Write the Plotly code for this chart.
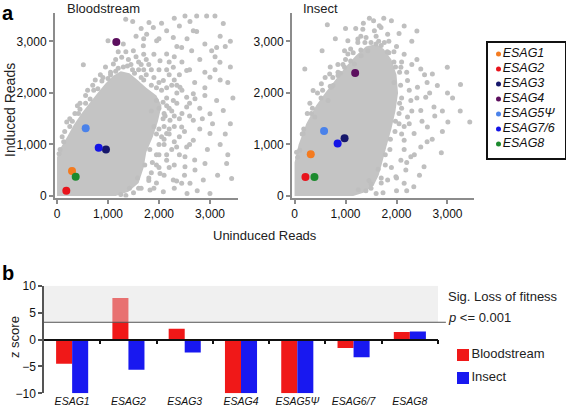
import plotly.graph_objects as go

W, H = 566, 410
FONT = "Liberation Sans, Arial, Helvetica, sans-serif"

# ---------------- Panel a data ----------------
genes = ["ESAG1", "ESAG2", "ESAG3", "ESAG4", "ESAG5Ψ", "ESAG7/6", "ESAG8"]
gene_colors = ["#f47b20", "#e8141c", "#16176b", "#5c0f5e", "#4a82ea", "#1414e6", "#1c8a2e"]

bs_uninduced = [294, 182, 960, 1163, 562, 817, 366]
bs_induced = [483, 102, 901, 2986, 1313, 933, 373]
in_uninduced = [318, 214, 981, 1189, 579, 845, 390]
in_induced = [811, 367, 1120, 2388, 1260, 1017, 367]

# dense core of the grey cloud (outline of the densely packed region)
bs_core_x = [0, 0, 80, 200, 330, 480, 620, 780, 950, 1100, 1250, 1420, 1580, 1750, 1950, 2050, 1980, 1880, 1750, 1700, 1600, 1400, 1150]
bs_core_y = [0, 750, 950, 1150, 1380, 1600, 1780, 1980, 2180, 2330, 2420, 2380, 2250, 2100, 1950, 1750, 1450, 1150, 850, 550, 250, 80, 0]
in_core_x = [0, 0, 80, 230, 420, 600, 800, 1000, 1200, 1400, 1600, 1750, 1900, 2000, 2030, 1980, 1900, 1800, 1720, 1650, 1550, 1350, 1150]
in_core_y = [0, 650, 1000, 1400, 1750, 2000, 2250, 2500, 2720, 2900, 2950, 2850, 2650, 2350, 2000, 1650, 1300, 950, 650, 400, 200, 60, 0]

# scattered grey points outside the dense core
bs_bg_x = [516, 190, 100, 250, 400, 560, 700, 850, 1000, 1105, 950, 1268, 1347, 1484, 1497, 1693, 1758, 1804, 1889, 1954,
           1600, 1400, 1750, 1850, 2020, 2150, 2150, 2281, 2445, 2510, 2608, 2641, 2739, 2739, 2935, 3098, 3261, 2673, 2550, 3033,
           3131, 3196, 3000, 2281, 2543, 2085, 2412, 2673, 2281, 2543, 2216, 2445, 2150, 2673, 2346, 2150, 2510, 2020, 2281, 2608,
           2085, 2543, 2706, 3131, 3261, 2673, 3000, 3000, 2543, 2902, 2510, 2706, 2445, 2869, 3425, 3327, 1824, 2346, 1950, 2000,
           2100, 2250, 2350, 1900, 2200, 2800, 2900, 3100, 3350, 3300, 3400, 3200, 2800, 2950, 3150, 2750, 1950, 2200, 2400, 2600,
           2300, 2050, 1650, 1550, 1300, 1200, 1950, 2050, 1850, 2150, 2000, 2100, 1900, 2250, 1750, 2000, 1650, 1900, 2200, 2400,
           2350, 2450, 2050, 1950, 2250, 1850, 2100,
           60, 150, 300, 450, 650, 800, 1000, 1150, 1300, 1480, 1650, 1850, 2080, 2080, 1950, 1820, 1720, 1580, 1420, 1250,
           1700, 1800, 1550, 1450, 1350, 1150, 1050, 900, 750, 600, 450, 350, 1600, 1700, 2150, 2300, 2450, 2150, 2300, 2200,
           2000, 2100, 2300, 2150, 2400, 2000, 1800, 1600, 1900, 2300, 2500, 2600, 2500, 2800, 2600, 2900, 2700, 2600, 2900, 3200,
           3100, 2900, 3200, 2400, 2300, 2000, 1700, 2450, 2350, 3400, 3400, 3450, 3300, 3050, 2850, 2700, 2300, 3000, 2550, 3350,
           2000, 2120, 2150, 1950, 1700, 1520, 1380, 1200, 1050, 880, 720, 560, 420, 250, 130, 40, 1870, 1800, 1650, 1500,
           1350, 2000, 2100, 2200, 2300, 2400, 2200, 2350]
bs_bg_y = [2548, 1434, 1150, 1500, 1750, 1950, 2150, 2350, 3011, 2561, 2500, 2689, 3430, 3384, 2818, 2915, 3140, 3365, 3268, 3011,
           2600, 2650, 2650, 2450, 2625, 2754, 3205, 3075, 2882, 3494, 3384, 2818, 3192, 3494, 3494, 3494, 3346, 3205, 3050, 2818,
           2882, 2593, 2303, 2496, 2432, 2239, 2110, 1982, 1853, 1724, 1467, 1338, 1210, 1081, 952, 695, 759, 438, 309, 245,
           83, 1917, 1886, 1853, 1660, 1467, 1596, 1210, 952, 631, 566, 502, 245, 309, 341, 631, 116, 290, 600, 1000,
           1350, 1650, 2000, 2300, 2350, 2650, 2100, 2450, 2200, 2900, 1400, 1000, 1300, 900, 400, 100, 250, 550, 1150, 1550,
           2700, 3350, 3250, 3100, 2950, 2800, 1850, 2050, 1650, 1900, 2200, 1600, 1350, 2150, 2350, 2450, 2550, 2750, 2600, 2350,
           1800, 1600, 1150, 800, 900, 450, 400,
           900, 1250, 1450, 1680, 1880, 2080, 2280, 2420, 2500, 2450, 2300, 2150, 1820, 1500, 1200, 900, 600, 350, 150, 30,
           2750, 2550, 2700, 2550, 2800, 2650, 2400, 2300, 2250, 2050, 1800, 1600, 2450, 2450, 2450, 2250, 2050, 1750, 1550, 1300,
           1700, 1100, 1050, 800, 800, 550, 350, 150, 150, 150, 400, 1000, 1250, 1700, 1800, 1950, 2200, 2450, 2400, 2250,
           2700, 2950, 3100, 3300, 3450, 3050, 3050, 2600, 2900, 2500, 3000, 1900, 1200, 1400, 1500, 700, 600, 50, 50, 800,
           1300, 1550, 2100, 2100, 2250, 2380, 2520, 2480, 2350, 2230, 2050, 1800, 1600, 1350, 1050, 820, 650, 300, 150, 60,
           10, 800, 1000, 1200, 1350, 1500, 1700, 2150]

in_bg_x = [643, 201, 540, 852, 981, 1046, 1241, 1468, 1339, 1566, 1663, 754, 657, 396, 170, 103, 1046, 1241, 1403, 1696,
           1826, 1761, 1598, 1436, 1306, 1176, 981, 852, 689, 526, 364, 721, 3255, 3437, 3008, 2879, 2339, 1735, 2476, 2703,
           2801, 2411, 2573, 2281, 2735, 2476, 2216, 2606, 2345, 2150, 2476, 2281, 2086, 2540, 2183, 1988, 1826, 2150, 2996, 2086,
           2216, 1950, 2150, 2300, 2050, 1900, 2200, 1950, 2100, 2250, 2050, 2150, 1900, 1700, 1500, 2600, 2400, 2700, 3100, 2900,
           2450, 2000,
           40, 150, 330, 520, 700, 900, 1100, 1300, 1500, 1700, 1850, 1980, 2080, 2060, 1980, 1880, 1780, 1640, 1460, 1250,
           1100, 1000, 850, 700, 600, 450, 300, 250, 1200, 1350, 1550, 1750, 2000, 2100, 2250, 2150, 2100, 2200, 2000, 2350,
           2600, 2500, 2750, 2300, 2400, 2650, 2550, 2300, 1850, 1600, 1300, 1000, 800, 2150, 2400, 3000, 3250, 2900, 2200, 1600,
           60, 180, 350, 550, 750, 950, 1150, 1380, 1650, 1820, 1950, 2060, 2100, 2050, 1970, 1870, 1780, 1700, 1500, 1400]
in_bg_y = [3320, 2465, 2818, 2400, 2818, 3011, 3044, 3449, 3237, 3205, 3301, 2143, 1853, 1531, 1210, 888, 2754, 2980, 3075, 3268,
           3140, 2980, 2947, 2818, 2722, 2561, 2496, 2336, 2368, 2175, 2046, 2110, 2162, 1434, 1434, 836, 180, 64, 2465, 2368,
           2143, 2110, 1917, 1853, 1724, 1660, 1531, 1338, 1210, 1081, 952, 759, 695, 566, 502, 373, 309, 245, 2496, 2496,
           2239, 2800, 2750, 3000, 3150, 3400, 2400, 2200, 1700, 1400, 1400, 900, 550, 250, 150, 2200, 2650, 1100, 1900, 1650,
           400, 100,
           850, 1200, 1600, 1900, 2130, 2380, 2620, 2830, 2980, 2920, 2780, 2500, 2150, 1800, 1450, 1100, 800, 520, 300, 120,
           2850, 2650, 2550, 2500, 2300, 2000, 1800, 1600, 3250, 3350, 3400, 3450, 2900, 2600, 2050, 1350, 1200, 650, 350, 800,
           1050, 1450, 1550, 1650, 1900, 2000, 2350, 2550, 3000, 3100, 3100, 3250, 3050, 3300, 3200, 2000, 1650, 1250, 100, 50,
           750, 1300, 1700, 2050, 2300, 2550, 2780, 2980, 3000, 2800, 2600, 2400, 1900, 1600, 1250, 900, 600, 350, 230, 100]

axis_ticks_a = [0, 1000, 2000, 3000]

# ---------------- Panel b data ----------------
z_genes = ["ESAG1", "ESAG2", "ESAG3", "ESAG4", "ESAG5Ψ", "ESAG6/7", "ESAG8"]
z_bloodstream = [-4.5, 7.7, 2.0, -10, -10, -1.6, 1.4]
z_insect = [-10, -5.6, -2.4, -10, -10, -3.3, 1.5]
z_ticks = [-10, -5, 0, 5, 10]
sig_threshold = 3.2
conditions = ["Bloodstream", "Insect"]
condition_colors = ["#f01818", "#1818f0"]

CLOUD = "#bfbfbf"
CLOUD_FILL = "#c4c4c4"
AXGREY = "#8c8c8c"


def dom_x(p0, p1):
    return [p0 / W, p1 / W]


def dom_y(top, bottom):
    return [1 - bottom / H, 1 - top / H]


fig = go.Figure()

# ---- scatter panels ----
for xa, ya, cx, cy, bx, by, ex, ey in [
    ("x", "y", bs_core_x, bs_core_y, bs_bg_x, bs_bg_y, bs_uninduced, bs_induced),
    ("x2", "y2", in_core_x, in_core_y, in_bg_x, in_bg_y, in_uninduced, in_induced),
]:
    fig.add_trace(go.Scatter(x=cx, y=cy, fill="toself", fillcolor=CLOUD_FILL, mode="none",
                             xaxis=xa, yaxis=ya, showlegend=False, hoverinfo="skip"))
    fig.add_trace(go.Scatter(x=bx, y=by, mode="markers", marker=dict(size=5, color=CLOUD),
                             xaxis=xa, yaxis=ya, showlegend=False, hoverinfo="skip"))
    fig.add_trace(go.Scatter(x=ex, y=ey, mode="markers", marker=dict(size=8, color=gene_colors),
                             xaxis=xa, yaxis=ya, showlegend=False, text=genes))

# ---- legend for panel a as a small boxed subplot ----
fig.add_trace(go.Scatter(
    x=[0 for _ in genes], y=list(range(len(genes))), mode="markers+text",
    marker=dict(size=5, color=gene_colors),
    text=[f"<i>{g}</i>" for g in genes], textposition="middle right",
    textfont=dict(size=12.5, color="#111", family=FONT), cliponaxis=False,
    xaxis="x5", yaxis="y5", showlegend=False, hoverinfo="skip"))

# ---- bar chart ----
z_pos = list(range(len(z_genes)))
for name, vals, col in zip(conditions, [z_bloodstream, z_insect], condition_colors):
    fig.add_trace(go.Bar(x=z_pos, y=vals, name=name, marker=dict(color=col, line=dict(width=0)),
                         xaxis="x3", yaxis="y3", showlegend=False))
fig.add_trace(go.Scatter(x=[], y=[], xaxis="x4", yaxis="y3", showlegend=False, hoverinfo="skip"))

# ---- legend for panel b ----
fig.add_trace(go.Scatter(
    x=[0 for _ in conditions], y=list(range(len(conditions))), mode="markers+text",
    marker=dict(size=12, color=condition_colors, symbol="square"),
    text=conditions, textposition="middle right",
    textfont=dict(size=13, color="#222", family=FONT), cliponaxis=False,
    xaxis="x6", yaxis="y6", showlegend=False, hoverinfo="skip"))

scatter_axis = dict(showgrid=False, zeroline=False, showline=True, linecolor=AXGREY, linewidth=2,
                    ticks="outside", ticklen=4, tickwidth=1.5, tickcolor=AXGREY,
                    tickvals=axis_ticks_a, tickformat=",d", automargin=False,
                    tickfont=dict(size=12, color="#111", family=FONT))
hidden = dict(visible=False, showgrid=False, zeroline=False, automargin=False)
box_axis = dict(showgrid=False, zeroline=False, showline=True, mirror=True, linecolor="#111",
                linewidth=1.5, ticks="", showticklabels=False, automargin=False)

yb = dom_y(285.7, 393.3)
zero_pos = (yb[0] + yb[1]) / 2


def label(text, px, py, size=13, angle=0, xanchor="center", color="#222"):
    return dict(text=text, x=px / W, y=1 - py / H, xref="paper", yref="paper", showarrow=False,
                xanchor=xanchor, yanchor="middle", textangle=angle,
                font=dict(size=size, color=color, family=FONT))


fig.update_layout(
    template="none",
    width=W, height=H, margin=dict(l=0, r=0, t=0, b=0, pad=0, autoexpand=False),
    paper_bgcolor="white", plot_bgcolor="rgba(0,0,0,0)",
    font=dict(family=FONT, color="#222"),
    barmode="group", bargap=0.43, bargroupgap=0,
    xaxis=dict(scatter_axis, domain=dom_x(55, 238), range=[-40, 3550], anchor="y"),
    yaxis=dict(scatter_axis, domain=dom_y(13, 197.5), range=[-30, 3550], anchor="x"),
    xaxis2=dict(scatter_axis, domain=dom_x(292, 474), range=[-50, 3520], anchor="y2"),
    yaxis2=dict(scatter_axis, domain=dom_y(13, 197.5), range=[-30, 3550], anchor="x2"),
    xaxis5=dict(box_axis, domain=dom_x(488, 565), range=[-10.5, 66.5], anchor="y5"),
    yaxis5=dict(box_axis, domain=dom_y(43, 158), range=[6.93, -0.73], anchor="x5"),
    xaxis3=dict(domain=dom_x(44, 438), range=[-0.5, 6.5], anchor="free", position=zero_pos,
                showgrid=False, zeroline=False, showline=True, linecolor="#111", linewidth=1.5,
                ticks="outside", ticklen=4, tickwidth=1.5, tickcolor="#111", automargin=False,
                tickvals=[p + 0.5 for p in z_pos], showticklabels=False),
    xaxis4=dict(overlaying="x3", range=[-0.5, 6.5], anchor="y3", side="bottom",
                showgrid=False, zeroline=False, showline=False, ticks="", automargin=False,
                tickvals=z_pos, ticktext=[f"<i>{g}</i>" for g in z_genes],
                tickfont=dict(size=10.5, color="#111", family=FONT)),
    yaxis3=dict(domain=yb, range=[-10, 10], anchor="x3",
                showgrid=False, zeroline=False, showline=True, linecolor="#555", linewidth=1.5,
                ticks="outside", ticklen=4, tickwidth=1.5, tickcolor="#555", tickvals=z_ticks,
                automargin=False, tickfont=dict(size=12, color="#111", family=FONT)),
    xaxis6=dict(hidden, domain=dom_x(456, 560), range=[-7, 97], anchor="y6"),
    yaxis6=dict(hidden, domain=dom_y(343, 390), range=[1.52, -0.52], anchor="x6"),
    shapes=[
        dict(type="rect", xref="x3 domain", yref="y3", x0=0, x1=1, y0=sig_threshold, y1=10,
             fillcolor="rgba(222,222,222,0.45)", line=dict(width=0), layer="above"),
        dict(type="line", xref="x3 domain", yref="y3", x0=0, x1=1.02, y0=sig_threshold, y1=sig_threshold,
             line=dict(color="#555", width=1), layer="above"),
    ],
    annotations=[
        label("<b>a</b>", 0, 13, size=20, xanchor="left", color="#000"),
        label("<b>b</b>", 0, 273, size=20, xanchor="left", color="#000"),
        label("Bloodstream", 103, 8, size=13),
        label("Insect", 320, 8, size=13),
        label("Induced Reads", 10, 110, size=14, angle=-90),
        label("Uninduced Reads", 265, 236, size=13),
        label("z score", 14, 337, size=13, angle=-90),
        label("Sig. Loss of fitness", 446, 296, size=13, xanchor="left"),
        label("<i>p</i> &lt;= 0.001", 446, 317, size=13, xanchor="left"),
    ],
)

fig.write_html("out.html", config={"displayModeBar": False},
               post_script="document.body.style.margin='0';document.body.style.padding='0';")
